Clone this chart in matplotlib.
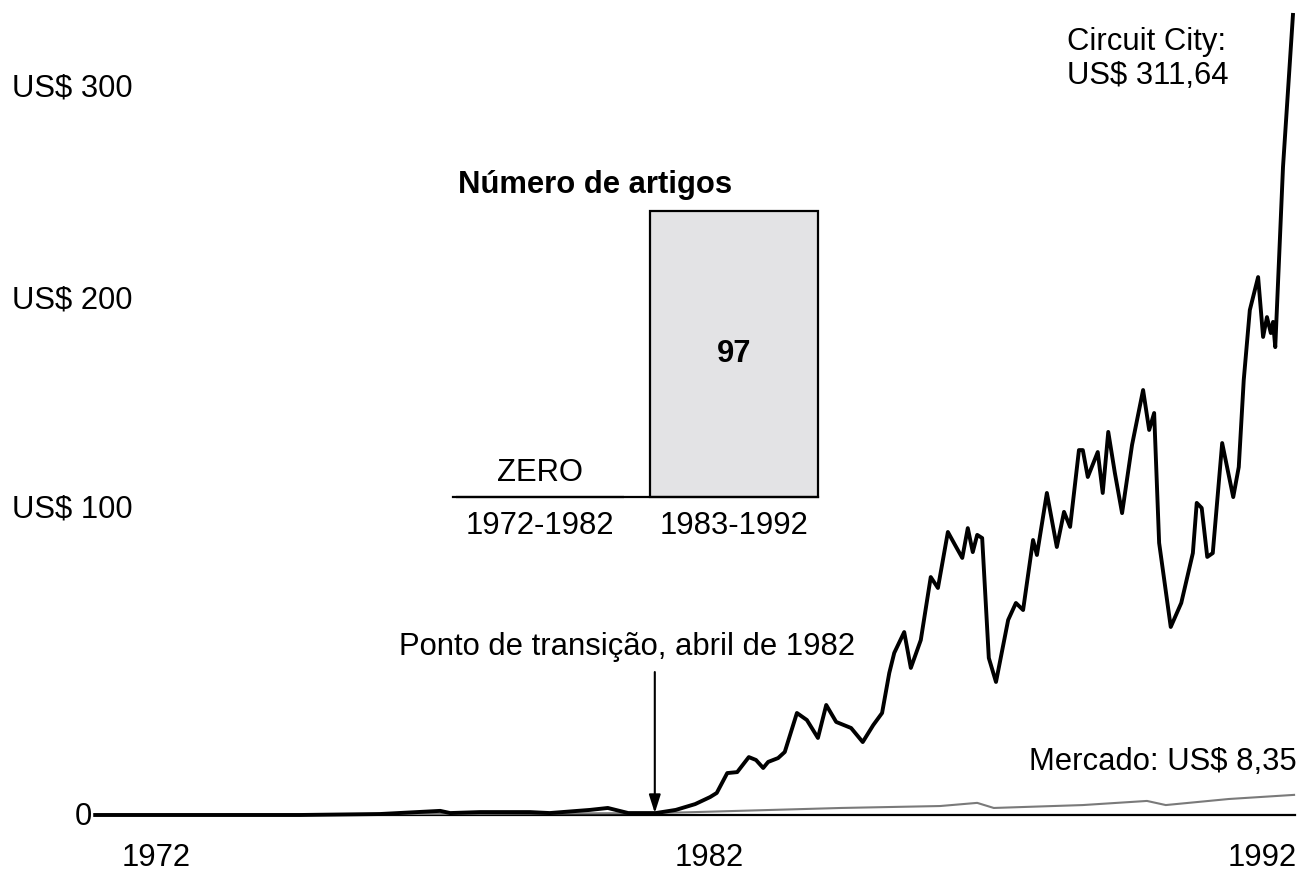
import matplotlib

matplotlib.use("Agg")
import matplotlib.pyplot as plt

plt.rcParams["font.family"] = ["Liberation Sans", "DejaVu Sans"]

# Circuit City stock value (US$, starting from US$ 1 in 1972)
cc_year = [1970.90, 1972.80, 1974.60, 1976.05, 1977.14, 1977.32, 1977.86, 1978.76, 1979.12,
           1979.85, 1980.17, 1980.54, 1981.04, 1981.40, 1981.75, 1982.02, 1982.14, 1982.33,
           1982.51, 1982.72, 1982.85, 1982.98, 1983.07, 1983.25, 1983.37, 1983.59, 1983.77,
           1983.97, 1984.12, 1984.30, 1984.57, 1984.78, 1984.97, 1985.13, 1985.26, 1985.35,
           1985.53, 1985.65, 1985.83, 1986.01, 1986.14, 1986.32, 1986.45, 1986.58, 1986.68,
           1986.77, 1986.85, 1986.94, 1987.06, 1987.19, 1987.41, 1987.55, 1987.68, 1987.86,
           1987.93, 1988.11, 1988.29, 1988.42, 1988.53, 1988.69, 1988.76, 1988.85, 1989.03,
           1989.12, 1989.22, 1989.34, 1989.47, 1989.65, 1989.85, 1989.96, 1990.05, 1990.14,
           1990.35, 1990.54, 1990.75, 1990.82, 1990.91, 1991.01, 1991.11, 1991.28, 1991.48,
           1991.58, 1991.67, 1991.78, 1991.93, 1992.02, 1992.09, 1992.16, 1992.20, 1992.24,
           1992.38, 1992.56]
cc_value = [0.0, 0.0, 0.0, 0.4, 1.7, 0.8, 1.2, 1.2, 0.8,
            2.1, 2.9, 0.8, 0.8, 2.1, 4.5, 7.4, 9.1, 17.3,
            17.7, 23.9, 22.7, 19.4, 21.9, 23.5, 26.0, 42.1, 39.2,
            31.8, 45.4, 38.4, 35.9, 30.1, 37.1, 42.1, 58.6, 66.9,
            75.5, 60.7, 72.2, 98.2, 93.7, 116.8, 111.4, 106.1, 118.4,
            108.5, 115.6, 114.3, 64.8, 54.9, 80.5, 87.5, 84.6, 113.5,
            107.3, 132.9, 110.6, 125.1, 118.9, 150.6, 150.6, 139.5, 149.8,
            132.9, 158.1, 141.1, 124.6, 152.7, 175.4, 158.9, 165.9, 112.3,
            77.6, 87.5, 108.1, 128.8, 126.7, 106.5, 108.1, 153.5, 131.2,
            143.6, 179.5, 208.4, 222.0, 197.3, 205.5, 198.9, 203.5, 193.1,
            267.4, 330.2]

# market average
mkt_year = [1970.90, 1976.41, 1981.04, 1981.75, 1984.39, 1986.18, 1986.85, 1987.15,
            1988.76, 1989.92, 1990.26, 1991.40, 1992.58]
mkt_value = [0.0, 0.4, 0.8, 1.2, 2.9, 3.7, 5.0, 2.9, 4.1, 5.8, 4.1, 6.6, 8.3]

# inset: number of articles
periods = ["1972-1982", "1983-1992"]
articles = [0, 97]

year_ticks = [1972, 1982, 1992]
transition_year = 1981.02

fig = plt.figure(figsize=(13.07, 8.73), dpi=100)
ax = fig.add_axes([0, 0, 1, 1])
ax.set_xlim(1969.179, 1992.814)
ax.set_ylim(-23.94, 336.36)
ax.axis("off")

FS = 22.3

ax.plot([1971.0, 1992.6], [0, 0], color="black", lw=1.6, zorder=1)
ax.plot(mkt_year, mkt_value, color="#7a7a7a", lw=1.5, zorder=2)
ax.plot(cc_year, cc_value, color="black", lw=2.8, solid_joinstyle="round", zorder=3)

# y labels (placed where the original puts them)
for txt, y in [("US$ 300", 300.0), ("US$ 200", 212.5), ("US$ 100", 125.9)]:
    ax.text(1969.396, y, txt, ha="left", va="center", fontsize=FS)
ax.text(1970.84, -0.8, "0", ha="right", va="center", fontsize=FS)

for yr in year_ticks:
    ax.text(yr, -17.7, str(yr), ha="center", va="center", fontsize=FS)

ax.text(1988.47, 319.0, "Circuit City:", ha="left", va="center", fontsize=FS)
ax.text(1988.47, 305.0, "US$ 311,64", ha="left", va="center", fontsize=FS)
ax.text(1992.63, 21.9, "Mercado: US$ 8,35", ha="right", va="center", fontsize=FS)
ax.text(1977.46, 260.0, "Número de artigos", ha="left", va="center",
        fontsize=FS, fontweight="bold")

ax.annotate("Ponto de transição, abril de 1982",
            xy=(transition_year, 0.8), xytext=(1980.52, 69.3),
            ha="center", va="center", fontsize=FS)
ax.annotate("", xy=(transition_year, 0.8), xytext=(transition_year, 59.0),
            arrowprops=dict(arrowstyle="-|>,head_length=1.1,head_width=0.35",
                            color="black", lw=1.5, shrinkA=0, shrinkB=0))

# inset bar chart
ins = fig.add_axes([453 / 1307, 376 / 873, 365 / 1307, 286 / 873])
ins.set_xlim(-0.448, 1.433)
ins.set_ylim(0, 97)
ins.bar(range(len(periods)), articles, width=0.866, color="#e3e3e5",
        edgecolor="black", linewidth=1.6, clip_on=False)
ins.set_xticks(range(len(periods)))
ins.set_xticklabels(periods, fontsize=FS)
ins.tick_params(axis="x", length=0, pad=10)
ins.set_yticks([])
for side in ["top", "left", "right"]:
    ins.spines[side].set_visible(False)
ins.spines["bottom"].set_linewidth(1.6)
ins.patch.set_alpha(0)
ins.text(1, articles[1] / 2, str(articles[1]), ha="center", va="center",
         fontsize=FS, fontweight="bold")
ins.text(0, 8, "ZERO", ha="center", va="center", fontsize=FS)

fig.savefig("out.png", dpi=100)
